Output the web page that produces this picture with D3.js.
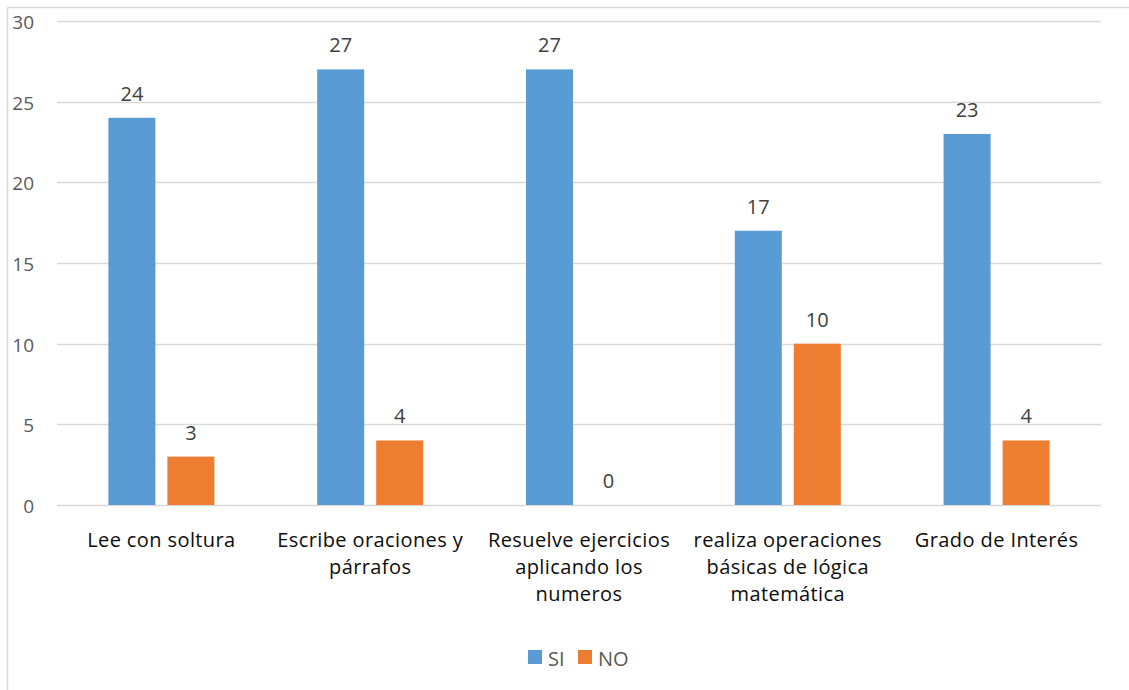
<!DOCTYPE html>
<html>
<head>
<meta charset="utf-8">
<script src="https://cdn.jsdelivr.net/npm/d3@7"></script>
<style>
  body { margin: 0; background: #fff; }
  svg { display: block; font-family: "Open Sans", Lato, sans-serif; }
</style>
</head>
<body>
<svg id="chart" width="1129" height="690"></svg>
<script>
 // Chart data
 const categories = [
     "Lee con soltura",
     "Escribe oraciones y\npárrafos",
     "Resuelve ejercicios\naplicando los\nnumeros",
     "realiza operaciones\nbásicas de lógica\nmatemática",
     "Grado de Interés"
 ];
 const seriesNames = ["SI", "NO"];
 const siValues = [24, 27, 27, 17, 23];
 const noValues = [3, 4, 0, 10, 4];
 const yTicks = [0, 5, 10, 15, 20, 25, 30];
 const colors = ["#5b9bd5", "#ed7d31"];

 const svg = d3.select("#chart");
 const plotLeft = 57, plotRight = 1101, plotTop = 21, plotBottom = 505;

 // Outer chart border (only top and left visible in crop)
 svg.append("line").attr("x1", 7.5).attr("x2", 1129).attr("y1", 7.5).attr("y2", 7.5)
     .attr("stroke", "#d9d9d9").attr("stroke-width", 1.5);
 svg.append("line").attr("x1", 7.5).attr("x2", 7.5).attr("y1", 7.5).attr("y2", 690)
     .attr("stroke", "#d9d9d9").attr("stroke-width", 1.5);

 // Scales
 const x = d3.scaleBand().domain(d3.range(categories.length)).range([plotLeft, plotRight]);
 const xs = d3.scaleBand().domain([0, 1]).range([-53, 53]).paddingInner(12 / 59);
 const y = d3.scaleLinear().domain([0, 30]).range([plotBottom, plotTop]);

 // Gridlines
 svg.append("g").selectAll("line").data(yTicks).join("line")
     .attr("x1", plotLeft).attr("x2", plotRight)
     .attr("y1", d => Math.round(y(d)) + 0.5).attr("y2", d => Math.round(y(d)) + 0.5)
     .attr("stroke", "#d9d9d9").attr("stroke-width", 1.3);

 // Y axis labels
 svg.append("g").selectAll("text").data(yTicks).join("text")
     .attr("x", 34).attr("y", d => y(d) + 8)
     .attr("text-anchor", "end")
     .attr("font-size", 19).attr("fill", "#595959")
     .text(d => d);

 // Bars
 const series = [siValues, noValues];
 series.forEach((vals, s) => {
     const g = svg.append("g");
     g.selectAll("rect").data(vals).join("rect")
         .attr("x", (d, i) => x(i) + x.bandwidth() / 2 + xs(s))
         .attr("y", d => y(d))
         .attr("width", xs.bandwidth())
         .attr("height", d => plotBottom - y(d))
         .attr("fill", colors[s]);
     g.selectAll("text").data(vals).join("text")
         .attr("x", (d, i) => x(i) + x.bandwidth() / 2 + xs(s) + xs.bandwidth() / 2)
         .attr("y", d => y(d) - 17)
         .attr("text-anchor", "middle")
         .attr("font-size", 20).attr("fill", "#404040")
         .text(d => d);
 });

 // Category labels
 const cat = svg.append("g").selectAll("text").data(categories).join("text")
     .attr("x", (d, i) => x(i) + x.bandwidth() / 2)
     .attr("y", 547)
     .attr("text-anchor", "middle")
     .attr("font-size", 20).attr("letter-spacing", 0.4).attr("fill", "#0d0d0d");
 cat.each(function (d) {
     const t = d3.select(this);
     d.split("\n").forEach((line, k) => {
         t.append("tspan").attr("x", t.attr("x")).attr("dy", k === 0 ? 0 : 27).text(line);
     });
 });

 // Legend
 const legend = svg.append("g");
 const legendX = [528, 578];
 seriesNames.forEach((name, s) => {
     legend.append("rect").attr("x", legendX[s]).attr("y", 650)
         .attr("width", 14).attr("height", 14).attr("fill", colors[s]);
     legend.append("text").attr("x", legendX[s] + 20).attr("y", 666)
         .attr("font-size", 20).attr("fill", "#595959").text(name);
 });
</script>
</body>
</html>
